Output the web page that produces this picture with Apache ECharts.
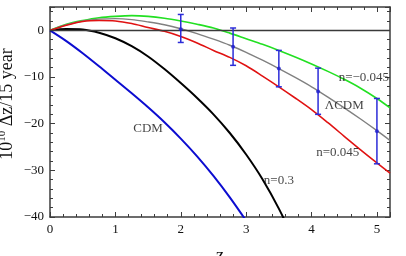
<!DOCTYPE html>
<html>
<head>
<meta charset="utf-8">
<script src="https://cdn.jsdelivr.net/npm/echarts@6/dist/echarts.min.js"></script>
<style>
  html, body { margin: 0; padding: 0; background: #fff; }
  #chart { width: 406px; height: 256px; }
</style>
</head>
<body>
<div id="chart"></div>
<script>
// redshift grid shared by the three near-LCDM curves
const zGrid = [0, 0.25, 0.5, 0.75, 1, 1.25, 1.5, 1.75, 2, 2.25, 2.5, 2.75, 3, 3.25, 3.5, 3.75, 4, 4.25, 4.5, 4.75, 5, 5.2];
const greenV = [0, 1.3, 2.1, 2.7, 3.0, 3.15, 3.0, 2.6, 2.0, 1.3, 0.5, -0.6, -1.8, -3.0, -4.3, -5.7, -7.2, -8.8, -10.5, -12.4, -14.6, -16.6];
const grayV = [0, 1.2, 2.0, 2.4, 2.5, 2.3, 1.8, 1.2, 0.35, -0.7, -1.9, -3.2, -4.7, -6.4, -8.2, -10.1, -12.1, -14.3, -16.6, -19.0, -21.5, -23.6];
const redV = [0, 1.1, 1.9, 2.1, 2.0, 1.45, 0.6, -0.2, -1.3, -2.7, -4.3, -5.8, -7.6, -9.8, -12.1, -14.5, -17.0, -19.8, -22.7, -25.6, -28.4, -30.6];

const blueZ = [0, 0.25, 0.5, 0.75, 1, 1.25, 1.5, 1.75, 2, 2.25, 2.5, 2.75, 3];
const blueV = [0, -2.3, -4.9, -7.7, -10.6, -13.5, -16.5, -19.7, -23.2, -27.0, -31.2, -35.8, -40.8];

const blackZ = [0, 0.25, 0.5, 0.75, 1, 1.25, 1.5, 1.75, 2, 2.25, 2.5, 2.75, 3, 3.25, 3.5, 3.75];
const blackV = [0, 0.3, 0.2, -0.5, -1.7, -3.4, -5.6, -8.3, -11.3, -14.5, -18.0, -22.0, -26.6, -31.9, -38.2, -45.5];

// simulated measurements
const errZ = [2.0, 2.8, 3.5, 4.1, 5.0];
const errMid = [0.25, -3.5, -8.2, -13.1, -21.6];
const errLow = [-2.6, -7.5, -12.1, -18.0, -28.6];
const errHigh = [3.4, 0.5, -4.3, -8.1, -14.6];

// curve labels (placed in data coordinates)
const labelText = ['CDM', 'n=0.3', 'n=0.045', '\u039BCDM', 'n=\u22120.045'];
const labelZ = [1.5, 3.5, 4.4, 4.5, 4.8];
const labelV = [-21.0, -32.1, -26.1, -16.1, -10.1];

const serif = '"Liberation Serif", "Times New Roman", serif';
const frame = '#3c3c3c';

const pairs = (xs, ys) => xs.map((x, i) => [x, ys[i]]);

const chart = echarts.init(document.getElementById('chart'), null, { renderer: 'canvas' });

function axisBase(show) {
  return {
    type: 'value',
    axisLine: { show: true, onZero: false, lineStyle: { color: frame, width: 1.5 } },
    axisTick: { show: true, inside: true, length: 5, lineStyle: { color: frame, width: 1 } },
    minorTick: { show: true, splitNumber: 5, length: 3, lineStyle: { color: frame, width: 1 } },
    splitLine: { show: false },
    axisLabel: {
      show: show,
      fontFamily: serif,
      fontSize: 13,
      color: '#111',
      margin: 6,
      showMaxLabel: false,
      formatter: (v) => String(v).replace('-', '\u2212'),
    },
  };
}

const curve = (name, data, color, width) => ({
  name,
  type: 'line',
  data,
  smooth: 0.3,
  symbol: 'none',
  clip: true,
  lineStyle: { color, width },
  z: 2,
});

chart.setOption({
  animation: false,
  grid: { left: 50, right: 16, top: 7, bottom: 39, outerBoundsMode: 'none' },
  xAxis: [
    Object.assign(axisBase(true), {
      position: 'bottom', min: 0, max: 5.2, interval: 1,
      name: 'z', nameLocation: 'middle', nameGap: 30, nameMoveOverlap: false,
      nameTextStyle: { fontFamily: serif, fontSize: 18, color: '#111' },
    }),
    Object.assign(axisBase(false), { position: 'top', min: 0, max: 5.2, interval: 1 }),
  ],
  yAxis: [
    Object.assign(axisBase(true), {
      position: 'left', min: -40, max: 5, interval: 10,
      name: '10{sup|10} \u0394z/15 year', nameLocation: 'middle', nameGap: 33, nameRotate: 90,
      nameMoveOverlap: false,
      nameTextStyle: {
        fontFamily: serif, fontSize: 18, color: '#111',
        padding: [0, 0, 0, 16],
        rich: { sup: { fontFamily: serif, fontSize: 11, verticalAlign: 'bottom', padding: [0, 0, 9, 0] } },
      },
    }),
    Object.assign(axisBase(false), { position: 'right', min: -40, max: 5, interval: 10 }),
  ],
  series: [
    Object.assign(curve('CDM', pairs(blueZ, blueV), '#0c0cd0', 2), {
      markLine: {
        silent: true,
        symbol: 'none',
        label: { show: false },
        lineStyle: { color: '#3a3a3a', width: 1.3, type: 'solid' },
        data: [{ yAxis: 0 }],
      },
    }),
    curve('n=0.3', pairs(blackZ, blackV), '#000000', 2),
    curve('n=-0.045', pairs(zGrid, greenV), '#22e022', 1.6),
    curve('LCDM', pairs(zGrid, grayV), '#808080', 1.4),
    curve('n=0.045', pairs(zGrid, redV), '#e01212', 1.6),
    {
      type: 'custom',
      data: errZ.map((z, i) => [z, errLow[i], errHigh[i]]),
      z: 5,
      renderItem: (params, api) => {
        const top = api.coord([api.value(0), api.value(2)]);
        const bot = api.coord([api.value(0), api.value(1)]);
        const w = 3;
        const style = { stroke: '#2c2cd8', lineWidth: 1.5 };
        return {
          type: 'group',
          children: [
            { type: 'line', shape: { x1: top[0], y1: top[1], x2: bot[0], y2: bot[1] }, style },
            { type: 'line', shape: { x1: top[0] - w, y1: top[1], x2: top[0] + w, y2: top[1] }, style },
            { type: 'line', shape: { x1: bot[0] - w, y1: bot[1], x2: bot[0] + w, y2: bot[1] }, style },
          ],
        };
      },
    },
    {
      type: 'scatter',
      data: pairs(errZ, errMid),
      symbolSize: 4,
      itemStyle: { color: '#2020d0' },
      z: 6,
    },
    {
      type: 'scatter',
      data: labelZ.map((z, i) => ({ value: [z, labelV[i]], name: labelText[i] })),
      symbolSize: 0,
      silent: true,
      z: 7,
      label: {
        show: true,
        position: 'inside',
        formatter: (p) => p.name,
        fontFamily: serif,
        fontSize: 13,
        color: '#111',
      },
    },
  ],
});
</script>
</body>
</html>
